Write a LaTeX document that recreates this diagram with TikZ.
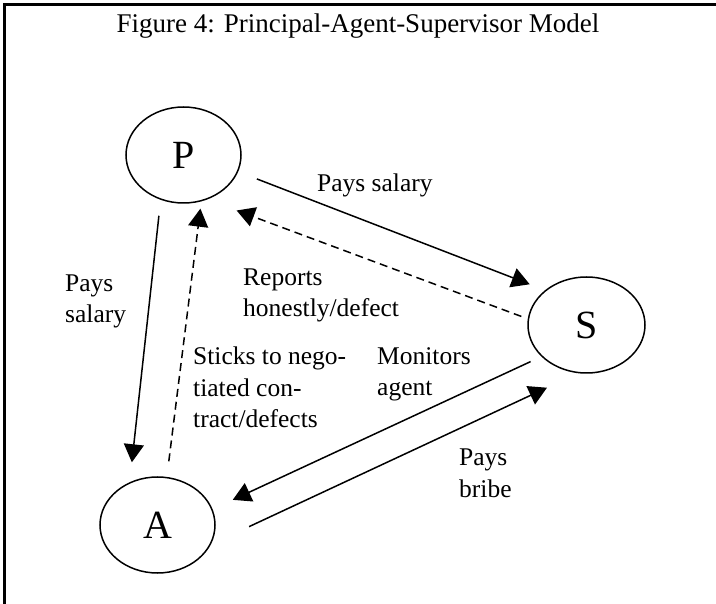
\documentclass[tikz,border=0pt]{standalone}
\usepackage{fontspec}
\setmainfont{Liberation Serif}
\usetikzlibrary{arrows.meta,shapes.geometric}
\tikzset{
  party/.style={draw, ellipse, line width=1.5pt, minimum width=115pt, minimum height=96pt, inner sep=0pt, font=\fontsize{40}{40}\selectfont},
  lbl/.style={align=left, inner sep=0pt, anchor=base west, font=\fontsize{25.5}{31.5}\selectfont},
  pay/.style={line width=1.5pt, -{Triangle[length=18pt,width=20pt]}},
  report/.style={pay, dash pattern=on 8pt off 5pt},
}
\begin{document}
\begin{tikzpicture}[x=1pt,y=-1pt]
                        \useasboundingbox (0,0) rectangle (716,604);
                        \draw [line width=3.5pt] (4.5,604) -- (4.5,4.5) -- (716,4.5);
                        \node [inner sep=0pt, anchor=base, font=\fontsize{27}{27}\selectfont] (title) at (358,33){Figure 4: Principal-Agent-Supervisor Model};
                        \node [party] (P) at (183.5,155){P};
                        \node [party, minimum width=117pt] (S) at (586.5,325){S};
                        \node [party] (A) at (157.5,525){A};
                        \draw [pay, shorten <=16pt, shorten >=20pt] (P.-117.3) -- (A.123.3);
                        \draw [report, shorten <=15.7pt, shorten >=7.3pt] (A.79.8) -- (P.-69.2);
                        \draw [pay, shorten <=20pt, shorten >=16.4pt] (P.-17.3) -- (S.140.4);
                        \draw [report, shorten <=6.8pt, shorten >=31.4pt] (S.174.5) -- (P.-62.3);
                        \draw [pay, shorten <=11.9pt, shorten >=22.2pt] (S.-145.3) -- (A.16);
                        \draw [pay, shorten <=42.1pt, shorten >=34.2pt] (A.-20.8) -- (S.-100.2);
                        \node [lbl] (salaryps) at (317,192){Pays salary};
                        \node [lbl] (salarypa) at (65,323){Pays\\salary};
                        \node [lbl] (reports) at (243,317){Reports\\honestly/defect};
                        \node [lbl] (sticks) at (193,428){Sticks to nego-\\tiated con-\\tract/defects};
                        \node [lbl] (monitors) at (377,396){Monitors\\agent};
                        \node [lbl] (bribe) at (459,497){Pays\\bribe};
                    \end{tikzpicture}
\end{document}
